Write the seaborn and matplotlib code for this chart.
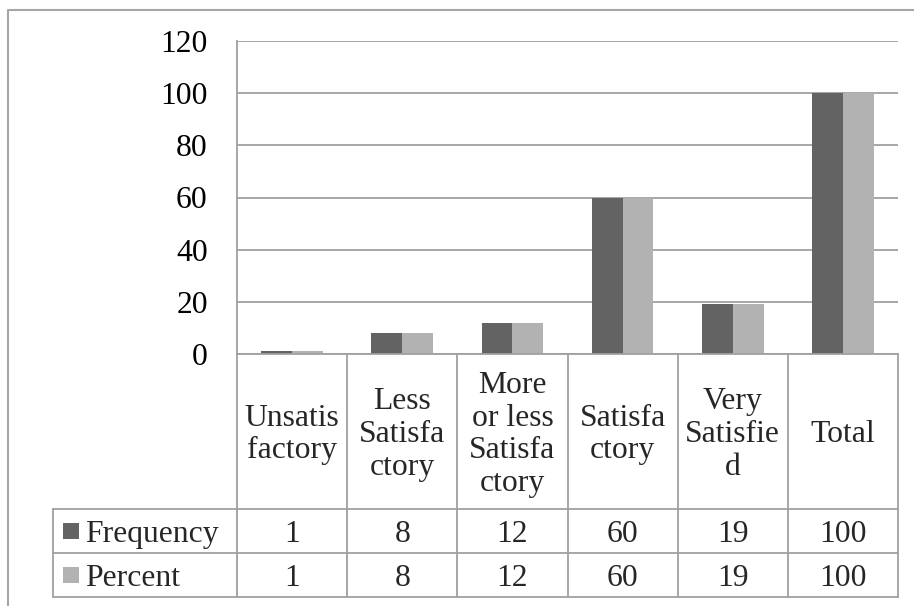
import matplotlib
matplotlib.use("Agg")
import matplotlib.pyplot as plt
import matplotlib.transforms as mtransforms
from matplotlib.lines import Line2D
from matplotlib.patches import Rectangle
import pandas as pd
import seaborn as sns

# data
categories = ["Unsatis\nfactory", "Less\nSatisfa\nctory", "More\nor less\nSatisfa\nctory",
              "Satisfa\nctory", "Very\nSatisfie\nd", "Total"]
frequency = [1, 8, 12, 60, 19, 100]
percent = [1, 8, 12, 60, 19, 100]
series_names = ["Frequency", "Percent"]
yticks = [0, 20, 40, 60, 80, 100, 120]

DARK = "#636363"
LIGHT = "#b2b2b2"
LINE = "#a0a0a0"
W, H = 914, 606

df = pd.DataFrame({
    "category": categories * 2,
    "series": [series_names[0]] * len(categories) + [series_names[1]] * len(categories),
    "value": frequency + percent,
})

sns.set_theme(style="white")
plt.rcParams["font.family"] = ["Liberation Serif", "DejaVu Serif"]
FS = 22.8


def fx(px):
    return px / W


def fy(py):
    return 1 - py / H


fig = plt.figure(figsize=(W / 100, H / 100), dpi=100)
ax_left, ax_right, ax_top, ax_bot = 237, 898, 41, 354
ax = fig.add_axes([fx(ax_left), fy(ax_bot), fx(ax_right - ax_left), (ax_bot - ax_top) / H])

sns.barplot(data=df, x="category", y="value", hue="series", order=categories,
            palette=[DARK, LIGHT], width=0.56, saturation=1, legend=False,
            edgecolor="none", linewidth=0, ax=ax)
ax.set_xlim(-0.5, len(categories) - 0.5)
ax.set_ylim(0, 120)
ax.set_yticks(yticks)
ax.set_yticklabels([str(t) for t in yticks], fontsize=FS)
ax.tick_params(axis="y", length=0, pad=21, colors="black")
ax.tick_params(axis="x", length=0, labelbottom=False)
ax.set_xlabel("")
ax.set_ylabel("")
ax.yaxis.grid(True, color=LINE, lw=1.3)
ax.set_axisbelow(True)
for side in ["top", "right"]:
    ax.spines[side].set_visible(False)
for side in ["left", "bottom"]:
    ax.spines[side].set_color(LINE)
    ax.spines[side].set_linewidth(1.3)

# data table under the plot
trans = mtransforms.blended_transform_factory(ax.transData, fig.transFigure)
hdr_bot, row1_bot, row2_bot = 509, 553, 597
lab_left = 53
n = len(categories)
for k in range(n + 1):
    x = k - 0.5
    fig.add_artist(Line2D([x, x], [fy(ax_bot), fy(row2_bot)], transform=trans,
                          color=LINE, lw=1.3))
for yy in [hdr_bot, row1_bot, row2_bot]:
    fig.add_artist(Line2D([fx(lab_left), fx(ax_right)], [fy(yy), fy(yy)],
                          transform=fig.transFigure, color=LINE, lw=1.3))
fig.add_artist(Line2D([fx(lab_left), fx(lab_left)], [fy(hdr_bot), fy(row2_bot)],
                      transform=fig.transFigure, color=LINE, lw=1.3))

for i, cat in enumerate(categories):
    fig.text(i, fy((ax_bot + hdr_bot) / 2 + 3), cat, transform=trans, ha="center",
             va="center", fontsize=FS, linespacing=1.18)

rows = [(series_names[0], frequency, DARK, hdr_bot, row1_bot),
        (series_names[1], percent, LIGHT, row1_bot, row2_bot)]
for name, vals, col, top, bot in rows:
    yc = fy((top + bot) / 2)
    fig.add_artist(Rectangle((fx(63), yc - 8 / H), 16 / W, 16 / H,
                             transform=fig.transFigure, color=col, lw=0))
    fig.text(fx(85), yc, name, ha="left", va="center_baseline", fontsize=FS)
    for i, v in enumerate(vals):
        fig.text(i, yc, str(v), transform=trans, ha="center", va="center_baseline",
                 fontsize=FS)

# outer chart frame
fig.add_artist(Line2D([fx(8), fx(8), fx(W)], [fy(H), fy(10), fy(10)],
                      transform=fig.transFigure, color="#a6a6a6", lw=1.5))

fig.savefig("out.png", dpi=100)
